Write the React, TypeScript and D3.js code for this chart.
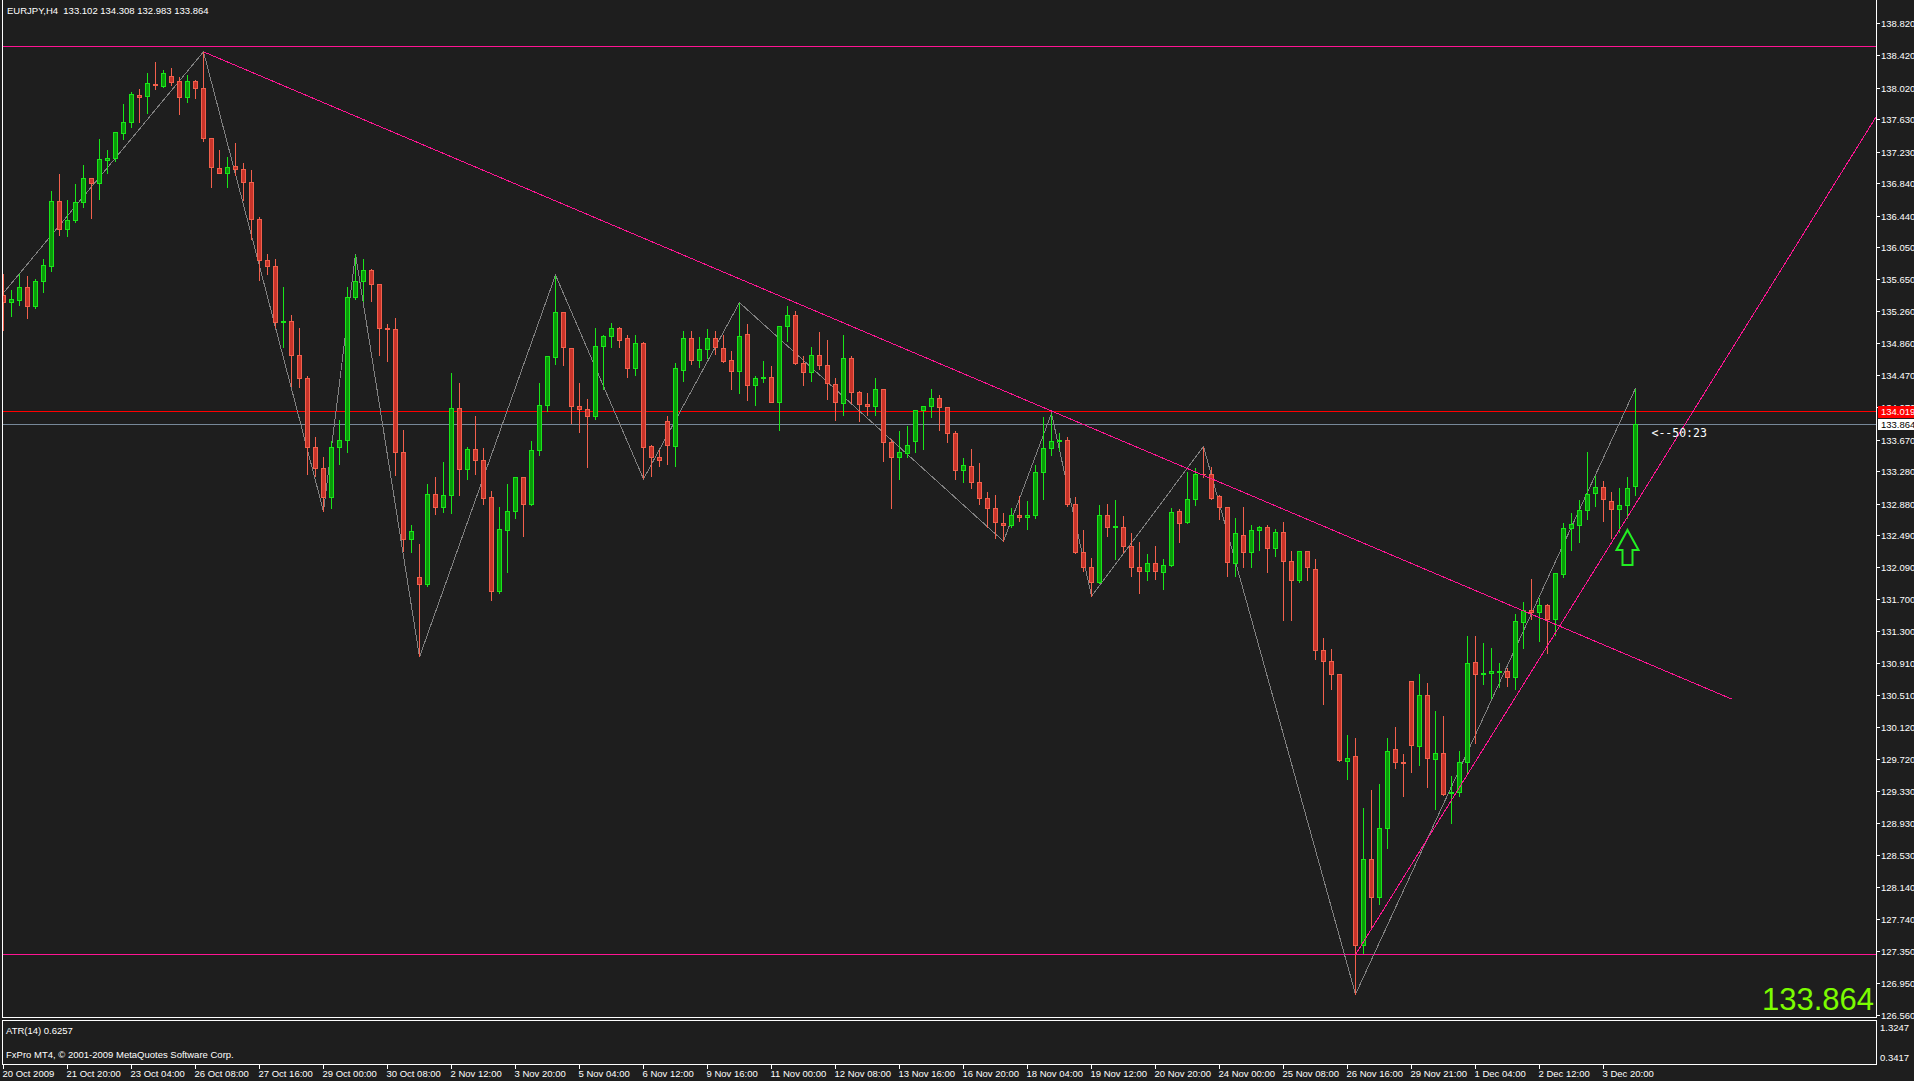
import * as d3 from 'd3';

// EURJPY H4 candles (oldest first)
const opens = [
  135.46, 135.37, 135.40, 135.56, 135.32, 135.63, 135.82, 136.62, 136.27, 136.38,
  136.61, 136.90, 136.84, 137.13, 137.15, 137.46, 137.60, 137.93, 137.92, 138.07,
  138.04, 138.17, 138.10, 137.90, 138.10, 138.02, 137.40, 137.03, 136.97, 137.05,
  137.02, 136.86, 136.40, 135.89, 135.82, 135.13, 135.14, 134.71, 134.43, 133.58,
  133.32, 132.96, 133.58, 133.67, 135.43, 135.63, 135.77, 135.59, 135.05, 135.04,
  133.52, 132.44, 131.97, 131.89, 133.00, 132.84, 132.99, 134.06, 133.31, 133.55,
  133.42, 132.96, 131.80, 132.55, 132.79, 133.21, 132.88, 133.54, 134.10, 134.69,
  135.25, 134.80, 134.09, 134.05, 133.96, 134.83, 134.95, 135.05, 134.92, 134.55,
  134.87, 133.59, 133.46, 133.90, 133.59, 134.53, 134.92, 134.66, 134.79, 134.93,
  134.80, 134.66, 134.52, 134.97, 134.34, 134.43, 134.45, 134.14, 135.08, 135.21,
  134.62, 134.50, 134.72, 134.59, 134.36, 134.12, 134.68, 134.26, 134.11, 134.08,
  134.30, 133.64, 133.46, 133.51, 133.65, 134.03, 134.08, 134.19, 134.07, 133.75,
  133.29, 133.34, 133.15, 132.95, 132.82, 132.64, 132.62, 132.74, 132.71, 132.74,
  133.27, 133.57, 133.65, 133.66, 132.87, 132.28, 132.09, 131.91, 132.74, 132.59,
  132.59, 132.36, 132.09, 132.05, 132.14, 132.03, 132.12, 132.79, 132.65, 132.94,
  133.25, 133.24, 132.97, 132.84, 132.15, 132.49, 132.28, 132.55, 132.59, 132.33,
  132.53, 132.17, 131.94, 132.29, 132.07, 131.07, 130.93, 130.77, 129.70, 129.76,
  127.42, 128.49, 128.01, 128.87, 129.84, 129.68, 130.69, 129.88, 130.51, 129.72,
  129.80, 129.30, 129.32, 129.68, 130.92, 130.77, 130.79, 130.80, 130.81, 130.73,
  131.42, 131.57, 131.54, 131.63, 131.45, 132.01, 132.58, 132.62, 132.80, 133.01,
  133.09, 132.91, 132.81, 132.86, 133.102,
];
const highs = [
  135.73, 135.53, 135.73, 135.71, 135.67, 135.91, 136.76, 136.96, 136.64, 136.84,
  137.08, 136.92, 137.40, 137.26, 137.48, 137.83, 137.98, 138.02, 138.22, 138.35,
  138.25, 138.27, 138.17, 138.19, 138.13, 138.47, 137.41, 137.26, 137.17, 137.35,
  137.10, 137.02, 136.44, 135.98, 135.92, 135.57, 135.22, 135.06, 134.47, 133.72,
  133.47, 133.67, 133.93, 135.57, 135.97, 135.91, 135.79, 135.61, 135.11, 135.19,
  133.80, 132.63, 132.39, 133.13, 133.22, 133.41, 134.50, 134.38, 133.59, 133.97,
  133.58, 133.05, 132.85, 133.13, 133.22, 133.22, 133.66, 134.38, 134.71, 135.71,
  135.26, 134.82, 134.38, 134.18, 135.06, 134.97, 135.12, 135.07, 134.97, 134.97,
  134.89, 133.61, 133.56, 133.97, 134.63, 135.02, 135.03, 134.95, 135.05, 135.02,
  134.98, 134.78, 135.37, 135.11, 134.47, 134.66, 134.59, 135.09, 135.34, 135.27,
  134.72, 134.83, 135.01, 134.91, 134.44, 134.98, 134.72, 134.28, 134.26, 134.44,
  134.31, 133.69, 133.79, 133.85, 134.05, 134.10, 134.31, 134.23, 134.09, 133.79,
  133.46, 133.57, 133.39, 133.04, 133.00, 132.78, 132.84, 132.99, 132.92, 133.37,
  133.96, 134.00, 133.76, 133.71, 132.97, 132.56, 132.22, 132.87, 132.89, 132.94,
  132.74, 132.53, 132.42, 132.27, 132.37, 132.21, 132.84, 132.82, 133.28, 133.33,
  133.59, 133.34, 133.00, 132.85, 132.71, 132.85, 132.63, 132.61, 132.63, 132.58,
  132.67, 132.31, 132.30, 132.31, 132.21, 131.23, 131.09, 130.78, 130.03, 129.99,
  129.13, 129.35, 129.43, 129.99, 130.13, 129.80, 130.70, 130.79, 130.67, 130.33,
  130.26, 129.53, 129.83, 131.25, 131.25, 131.17, 131.11, 130.92, 130.86, 131.53,
  131.68, 131.96, 131.73, 131.65, 132.03, 132.65, 132.77, 132.94, 133.53, 133.23,
  133.17, 133.03, 133.09, 133.22, 134.308,
];
const lows = [
  135.02, 135.20, 135.34, 135.17, 135.30, 135.50, 135.75, 136.20, 136.19, 136.36,
  136.54, 136.41, 136.64, 136.97, 137.12, 137.39, 137.53, 137.60, 137.71, 138.01,
  138.03, 138.05, 137.70, 137.84, 137.89, 137.36, 136.79, 136.96, 136.79, 136.94,
  136.63, 136.15, 135.64, 135.72, 135.06, 134.82, 134.33, 134.32, 133.24, 133.22,
  132.79, 132.82, 133.37, 133.52, 135.41, 135.38, 135.38, 134.71, 134.64, 133.23,
  132.29, 132.28, 130.99, 131.86, 132.75, 132.77, 132.76, 132.99, 133.18, 133.24,
  132.87, 131.69, 131.78, 132.03, 132.70, 132.48, 132.86, 133.48, 134.02, 134.60,
  134.59, 133.87, 133.76, 133.33, 133.93, 134.29, 134.82, 134.81, 134.44, 134.47,
  133.19, 133.22, 133.35, 133.37, 133.34, 134.39, 134.60, 134.57, 134.68, 134.73,
  134.63, 134.29, 134.25, 134.16, 134.10, 134.38, 134.13, 133.79, 134.89, 134.61,
  134.34, 134.39, 134.54, 134.17, 133.91, 133.98, 134.12, 133.90, 133.98, 133.97,
  133.40, 132.82, 133.18, 133.45, 133.52, 133.56, 133.95, 133.79, 133.64, 133.18,
  133.14, 133.07, 132.87, 132.59, 132.45, 132.42, 132.59, 132.66, 132.56, 132.70,
  132.94, 133.48, 133.54, 132.85, 132.27, 132.05, 131.74, 131.90, 132.48, 132.20,
  132.28, 131.98, 131.77, 131.94, 131.95, 131.82, 132.11, 132.41, 132.64, 132.86,
  133.21, 132.94, 132.69, 131.99, 131.99, 132.10, 132.10, 132.31, 132.03, 132.23,
  131.44, 131.44, 131.91, 131.94, 130.96, 130.40, 130.59, 129.70, 129.48, 126.82,
  127.33, 127.62, 127.93, 128.62, 129.61, 129.26, 129.56, 129.65, 129.37, 129.10,
  129.28, 128.93, 129.26, 129.54, 129.92, 130.65, 130.48, 130.61, 130.63, 130.59,
  131.10, 131.45, 131.18, 131.03, 131.25, 131.97, 132.31, 132.41, 132.69, 132.85,
  132.66, 132.45, 132.53, 132.70, 132.983,
];
const closes = [
  135.37, 135.41, 135.56, 135.32, 135.63, 135.83, 136.62, 136.27, 136.39, 136.61,
  136.90, 136.84, 137.14, 137.15, 137.47, 137.60, 137.94, 137.90, 138.08, 138.05,
  138.20, 138.09, 137.90, 138.10, 138.02, 137.40, 137.04, 136.97, 137.04, 137.02,
  136.86, 136.40, 135.89, 135.82, 135.13, 135.14, 134.71, 134.43, 133.58, 133.32,
  132.96, 133.58, 133.67, 135.43, 135.63, 135.77, 135.59, 135.05, 135.04, 133.52,
  132.44, 132.54, 131.89, 133.00, 132.84, 132.99, 134.06, 133.31, 133.55, 133.42,
  132.95, 131.80, 132.56, 132.79, 133.21, 132.88, 133.54, 134.10, 134.70, 135.25,
  134.82, 134.09, 134.05, 133.96, 134.83, 134.95, 135.05, 134.90, 134.55, 134.87,
  133.58, 133.46, 133.42, 133.60, 134.55, 134.92, 134.66, 134.79, 134.93, 134.82,
  134.64, 134.52, 134.95, 134.34, 134.43, 134.45, 134.14, 135.08, 135.21, 134.62,
  134.50, 134.72, 134.59, 134.37, 134.13, 134.68, 134.26, 134.11, 134.08, 134.30,
  133.64, 133.46, 133.52, 133.60, 134.03, 134.08, 134.19, 134.07, 133.75, 133.29,
  133.36, 133.15, 132.95, 132.82, 132.65, 132.62, 132.74, 132.71, 132.74, 133.27,
  133.57, 133.65, 133.67, 132.87, 132.28, 132.09, 131.91, 132.74, 132.59, 132.60,
  132.36, 132.09, 132.04, 132.14, 132.04, 132.12, 132.78, 132.64, 132.94, 133.25,
  133.24, 132.95, 132.84, 132.16, 132.51, 132.28, 132.55, 132.59, 132.33, 132.53,
  132.17, 131.94, 132.29, 132.10, 131.07, 130.93, 130.77, 129.71, 129.74, 127.42,
  128.49, 128.02, 128.87, 129.82, 129.69, 129.67, 129.89, 130.51, 129.73, 129.80,
  129.29, 129.32, 129.69, 130.91, 130.77, 130.79, 130.81, 130.81, 130.73, 131.43,
  131.56, 131.54, 131.63, 131.45, 132.02, 132.58, 132.63, 132.80, 133.00, 133.09,
  132.94, 132.81, 132.86, 133.07, 133.864,
];

const timeLabels = [
  '20 Oct 2009', '21 Oct 20:00', '23 Oct 04:00', '26 Oct 08:00', '27 Oct 16:00',
  '29 Oct 00:00', '30 Oct 08:00', '2 Nov 12:00', '3 Nov 20:00', '5 Nov 04:00',
  '6 Nov 12:00', '9 Nov 16:00', '11 Nov 00:00', '12 Nov 08:00', '13 Nov 16:00',
  '16 Nov 20:00', '18 Nov 04:00', '19 Nov 12:00', '20 Nov 20:00', '24 Nov 00:00',
  '25 Nov 08:00', '26 Nov 16:00', '29 Nov 21:00', '1 Dec 04:00', '2 Dec 12:00',
  '3 Dec 20:00',
];
const priceTicks = [
  '138.820', '138.420', '138.020', '137.630', '137.230', '136.840', '136.440', '136.050',
  '135.650', '135.260', '134.860', '134.470', '134.070', '133.670', '133.280', '132.880',
  '132.490', '132.090', '131.700', '131.300', '130.910', '130.510', '130.120', '129.720',
  '129.330', '128.930', '128.530', '128.140', '127.740', '127.350', '126.950', '126.560',
];
const atrTicks = ['1.3247', '0.3417'];

// zigzag pivots (bar index, price)
const zigBars = [0, 25, 40, 44, 52, 69, 80, 92, 125, 131, 136, 150, 169, 204];
const zigPrices = [135.49, 138.47, 132.79, 135.97, 130.99, 135.71, 133.19, 135.37, 132.42, 134.00, 131.74, 133.59, 126.82, 134.31];

// drawn objects
const downTrendBars = [25, 216];
const downTrendPrices = [138.47, 130.47];
const upTrendBars = [169, 204];
const upTrendPrices = [127.31, 132.88];
const hLevels = [138.54, 127.31];
const redLevel = 134.019;
const bidPrice = 133.864;
const arrowBar = 203;
const arrowPrice = 132.56;

const BG = '#1e1e1e';
const PINK = '#ff1493';
const UP_LINE = '#19e619';
const UP_FILL = '#0a9a0a';
const DN_LINE = '#f2604c';
const DN_FILL = '#c8342a';
const FONT = 'Liberation Sans, Arial, sans-serif';

export default function App() {
  const W = 1914;
  const H = 1081;
  const left = 2.5;
  const right = 1876.5;
  const mainBottom = 1017.5;
  const atrTop = 1020.5;
  const atrBottom = 1064.5;

  const x = d3.scaleLinear().domain([0, 204]).range([3.5, 1635.5]);
  const y = d3.scaleLinear().domain([126.56, 138.82]).range([1015.3, 23.5]);
  const snap = (v: number) => Math.round(v - 0.5) + 0.5;

  const zig = d3.line<number>()
    .x((b) => x(b))
    .y((_, i) => y(zigPrices[i]));

  // extend the support trend line to the right edge (it is a ray)
  const upSlope = (upTrendPrices[1] - upTrendPrices[0]) / (upTrendBars[1] - upTrendBars[0]);
  const upEndBar = x.invert(right);
  const upEndPrice = upTrendPrices[0] + upSlope * (upEndBar - upTrendBars[0]);

  const arrowTip = y(arrowPrice);
  const ax = x(arrowBar);
  const arrowPts = [
    [ax, arrowTip], [ax + 11, arrowTip + 20], [ax + 5, arrowTip + 20], [ax + 5, arrowTip + 35],
    [ax - 5, arrowTip + 35], [ax - 5, arrowTip + 20], [ax - 11, arrowTip + 20],
  ].map((p) => p.join(',')).join(' ');

  return (
    <svg width={W} height={H} style={{ position: 'fixed', left: 0, top: 0 }} shapeRendering="crispEdges">
      <defs>
        <clipPath id="main">
          <rect x={left + 0.5} y={0} width={right - left - 1} height={mainBottom} />
        </clipPath>
      </defs>
      <rect x={0} y={0} width={W} height={H} fill={BG} />

      <g clipPath="url(#main)">
        {hLevels.map((p, i) => (
          <line key={'h' + i} x1={left} x2={right} y1={snap(y(p))} y2={snap(y(p))} stroke={PINK} />
        ))}
        <line x1={left} x2={right} y1={snap(y(redLevel))} y2={snap(y(redLevel))} stroke="#ff0000" />
        <line x1={left} x2={right} y1={snap(y(bidPrice))} y2={snap(y(bidPrice))} stroke="#778899" />

        <path d={zig(zigBars) || ''} fill="none" stroke="#808080" />

        {opens.map((o, i) => {
          const c = closes[i];
          const up = c >= o;
          const cx = x(i);
          const top = snap(y(Math.max(o, c)));
          const bot = snap(y(Math.min(o, c)));
          const line = up ? UP_LINE : DN_LINE;
          return (
            <g key={i}>
              <line x1={cx} x2={cx} y1={snap(y(highs[i]))} y2={snap(y(lows[i]))} stroke={line} />
              {bot - top < 1 ? (
                <line x1={cx - 2} x2={cx + 2} y1={top} y2={top} stroke={line} />
              ) : (
                <rect x={cx - 2} y={top} width={4} height={bot - top} fill={up ? UP_FILL : DN_FILL} stroke={line} />
              )}
            </g>
          );
        })}

        <line x1={x(downTrendBars[0])} y1={y(downTrendPrices[0])} x2={x(downTrendBars[1])} y2={y(downTrendPrices[1])}
          stroke={PINK} />
        <line x1={x(upTrendBars[0])} y1={y(upTrendPrices[0])} x2={x(upEndBar)} y2={y(upEndPrice)} stroke={PINK} />

        <polygon points={arrowPts} fill="none" stroke="#22ee22" strokeWidth={2} shapeRendering="auto" />

        <text x={x(204) + 16} y={y(bidPrice) + 13} fill="#ffffff" fontFamily="DejaVu Sans Mono, monospace" fontSize={11.5}>
          {'<--50:23'}
        </text>
        <text x={1874} y={1010} textAnchor="end" fill="#7cfc00" fontFamily={FONT} fontSize={31} shapeRendering="auto">
          {bidPrice.toFixed(3)}
        </text>
      </g>

      {/* panel frames */}
      <g stroke="#ffffff" fill="none">
        <line x1={left} x2={left} y1={0} y2={mainBottom} />
        <line x1={right} x2={right} y1={0} y2={mainBottom} />
        <line x1={left} x2={right} y1={mainBottom} y2={mainBottom} />
        <rect x={left} y={atrTop} width={right - left} height={atrBottom - atrTop} />
      </g>

      <text x={7} y={14} fill="#ffffff" fontFamily={FONT} fontSize={9.5}>
        EURJPY,H4{'\u00a0\u00a0'}133.102 134.308 132.983 133.864
      </text>
      <text x={6} y={1034} fill="#ffffff" fontFamily={FONT} fontSize={9.5}>ATR(14) 0.6257</text>
      <text x={6} y={1058} fill="#ffffff" fontFamily={FONT} fontSize={9.5}>
        FxPro MT4, © 2001-2009 MetaQuotes Software Corp.
      </text>

      {/* price axis */}
      {priceTicks.map((t) => {
        const ty = snap(y(+t));
        return (
          <g key={t}>
            <line x1={right} x2={right + 3} y1={ty} y2={ty} stroke="#ffffff" />
            <text x={1881} y={ty + 3.5} fill="#ffffff" fontFamily={FONT} fontSize={9.5}>{t}</text>
          </g>
        );
      })}
      <rect x={right + 1} y={snap(y(redLevel)) - 6} width={W - right} height={12} fill="#ff0000" />
      <text x={1881} y={snap(y(redLevel)) + 3.5} fill="#ffffff" fontFamily={FONT} fontSize={9.5}>
        {redLevel.toFixed(3)}
      </text>
      <rect x={right + 1} y={snap(y(bidPrice)) - 5.5} width={W - right} height={11} fill="#ffffff" />
      <text x={1881} y={snap(y(bidPrice)) + 3.5} fill="#000000" fontFamily={FONT} fontSize={9.5}>
        {bidPrice.toFixed(3)}
      </text>

      <text x={1880} y={1031} fill="#ffffff" fontFamily={FONT} fontSize={9.5}>{atrTicks[0]}</text>
      <text x={1880} y={1061} fill="#ffffff" fontFamily={FONT} fontSize={9.5}>{atrTicks[1]}</text>

      {/* time axis */}
      {timeLabels.map((t, i) => {
        const tx = x(i * 8);
        return (
          <g key={t}>
            <line x1={tx} x2={tx} y1={atrBottom} y2={atrBottom + 4} stroke="#ffffff" />
            <text x={tx - 1} y={1077} fill="#ffffff" fontFamily={FONT} fontSize={9.5}>{t}</text>
          </g>
        );
      })}
    </svg>
  );
}
